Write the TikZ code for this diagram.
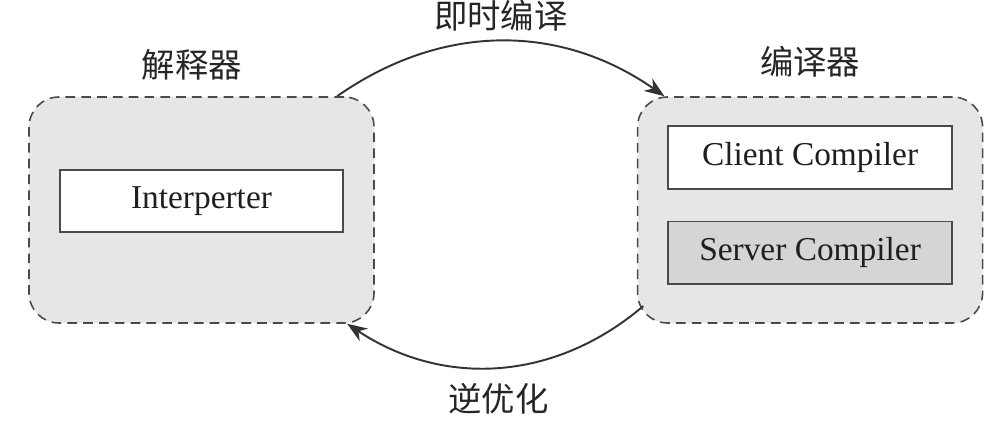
\documentclass[tikz,border=0pt]{standalone}
\usepackage{fontspec}
\setmainfont{Liberation Serif}
\newfontfamily\cjk{Noto Sans CJK SC}
\usepackage{tikz}
\usetikzlibrary{arrows.meta,positioning}
\definecolor{boxgray}{HTML}{E6E6E7}
\definecolor{srvgray}{HTML}{D5D5D6}
\definecolor{linegray}{HTML}{4A4A4A}

\begin{document}
\begin{tikzpicture}[
    font=\fontsize{19}{22}\selectfont,
    node distance=0mm,
    group/.style={draw=linegray, dash pattern=on 5.5pt off 3.5pt, line width=0.9pt, rounded corners=0.6cm, fill=boxgray, minimum width=6.9cm, minimum height=4.52cm},
    unit/.style={draw=linegray, line width=1pt, fill=white, minimum width=5.67cm, minimum height=1.25cm, inner sep=0pt, text=black!88},
    title/.style={font=\cjk\fontsize{19}{22}\selectfont, text=black!85, inner sep=0pt},
    flow/.style={-{Stealth[length=4mm, width=3mm]}, line width=1.1pt, draw=black!80}
]
\useasboundingbox (0,0) rectangle (20.06,8.54);

\node[group] (interp) at (4.03,4.34) {};
\node[group, right=5.24cm of interp] (comp) {};

\node[unit] (ip) at ([yshift=0.18cm]interp.center) {Interperter};
\node[unit] (cc) at ([yshift=1.05cm]comp.center) {Client Compiler};
\node[unit, fill=srvgray, below=0.62cm of cc] (sc) {Server Compiler};

\node[title, above=0.32cm of interp, xshift=-0.19cm] (tinterp) {解释器};
\node[title, above=0.38cm of comp] (tcomp) {编译器};

\draw[flow] (interp.40) to[bend left=35] node[title, above=0.19cm] (jit) {即时编译} (comp.142);
\draw[flow] ([xshift=0.13cm]comp.209.4) to[bend left=37] node[title, below=0.3cm] (deopt) {逆优化} (interp.-38);
\end{tikzpicture}
\end{document}
